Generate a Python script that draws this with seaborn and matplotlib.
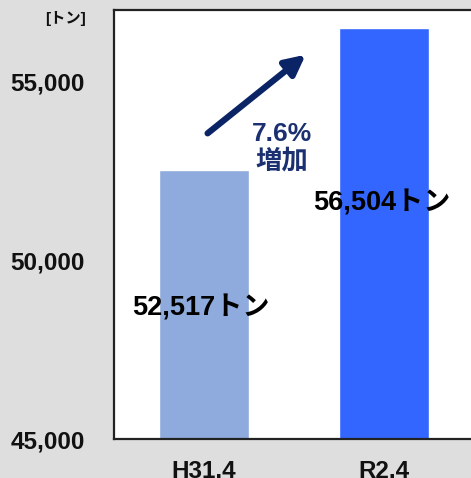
import matplotlib
matplotlib.use("Agg")
import matplotlib.pyplot as plt
import pandas as pd
import seaborn as sns
from matplotlib.ticker import FuncFormatter

# Data
categories = ["H31.4", "R2.4"]
values = [52517, 56504]
bar_colors = ["#8faadc", "#3366ff"]
value_labels = ["52,517トン", "56,504トン"]
yticks = [45000, 50000, 55000]
growth_text = "7.6%\n増加"
unit_text = "[トン]"

sns.set_theme(style="white")
plt.rcParams["font.family"] = ["Liberation Sans", "Noto Sans CJK JP", "DejaVu Sans"]
plt.rcParams["font.weight"] = "bold"

df = pd.DataFrame({"period": categories, "tons": values})

fig = plt.figure(figsize=(4.71, 4.78), dpi=100)
fig.patch.set_facecolor("#dedede")
ax = fig.add_axes([114 / 471, 39 / 478, 360 / 471, 429 / 478])
ax.set_facecolor("white")

sns.barplot(data=df, x="period", y="tons", hue="period", palette=bar_colors,
            width=0.5, legend=False, ax=ax, saturation=1)

ax.set_xlim(-0.5, 1.5)
ax.set_ylim(45000, 57000)
ax.set_yticks(yticks)
ax.yaxis.set_major_formatter(FuncFormatter(lambda v, p: f"{int(v):,}"))
ax.set(xlabel=None, ylabel=None)

for side in ["left", "bottom", "top", "right"]:
    ax.spines[side].set_color("#222222")
    ax.spines[side].set_linewidth(1.6)

ax.tick_params(axis="y", direction="in", length=5, width=1.2, color="#222222",
               pad=21, labelsize=17.5)
ax.tick_params(axis="x", length=0, pad=15, labelsize=17.5)
for lab in ax.get_xticklabels() + ax.get_yticklabels():
    lab.set_fontweight("bold")
    lab.set_color("#111111")

# Value labels
ax.text(-0.015, 48650, value_labels[0], ha="center", va="center",
        fontsize=19.5, fontweight="bold", color="black")
ax.text(0.985, 51600, value_labels[1], ha="center", va="center",
        fontsize=19.5, fontweight="bold", color="black")

# Growth arrow
ax.annotate("", xy=(0.565, 55750), xytext=(0.02, 53550),
            arrowprops=dict(arrowstyle="-|>,head_length=1.0,head_width=0.5",
                            color="#0b2466", lw=4.5, shrinkA=0, shrinkB=0))
ax.text(0.433, 53150, growth_text, ha="center", va="center", fontsize=19,
        fontweight="bold", color="#1a3070", linespacing=1.1)

fig.text(66 / 471, 1 - 19 / 478, unit_text, ha="center", va="center",
         fontsize=11, fontweight="bold", color="#111111")

fig.savefig("out.png", dpi=100, facecolor=fig.get_facecolor())
